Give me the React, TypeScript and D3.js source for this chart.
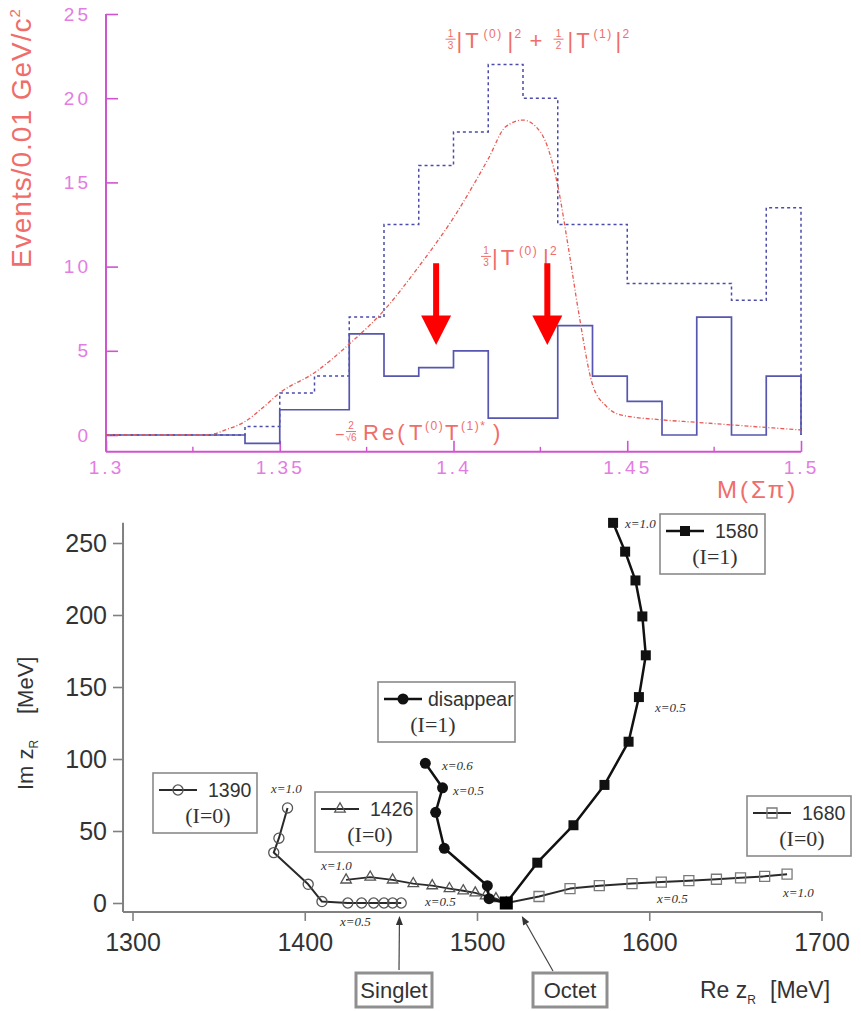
import * as d3 from "d3";
import { useEffect, useRef } from "react";

// ---------- upper panel: M(Σπ) spectrum ----------
const binStart = [1.30, 1.31, 1.32, 1.33, 1.34, 1.35, 1.36, 1.37, 1.38, 1.39, 1.40, 1.41, 1.42, 1.43, 1.44, 1.45, 1.46, 1.47, 1.48, 1.49];
const binEnd = 1.5;
const solidCounts = [0, 0, 0, 0, -0.5, 1.5, 1.5, 6, 3.5, 4, 5, 1, 1, 6.5, 3.5, 2, 0, 7, 0, 3.5];
const dashedCounts = [0, 0, 0, 0, 0.5, 2.5, 3.5, 7, 12.5, 16, 18, 22, 20, 12.5, 12.5, 9, 9, 9, 8, 13.5];

const curveMass = [1.30, 1.329, 1.335, 1.34, 1.345, 1.35, 1.36, 1.37, 1.38, 1.39, 1.40, 1.41, 1.415, 1.42, 1.425, 1.43, 1.433, 1.436, 1.44, 1.444, 1.448, 1.46, 1.47, 1.48, 1.49, 1.50];
const curveValue = [0, 0, 0.35, 0.8, 1.6, 2.5, 3.7, 5.4, 7.4, 10.0, 12.9, 16.4, 18.3, 18.7, 18.0, 14.8, 11.2, 7.3, 3.0, 1.7, 1.2, 0.9, 0.75, 0.6, 0.45, 0.3];

const arrowMass = [1.395, 1.427];
const topYTicks = [0, 5, 10, 15, 20, 25];
const topXTicks = [1.3, 1.35, 1.4, 1.45, 1.5];
const topMinorTicks = [1.325, 1.375, 1.425, 1.475];

// ---------- lower panel: pole trajectories ----------
const bottomXTicks = [1300, 1400, 1500, 1600, 1700];
const bottomYTicks = [0, 50, 100, 150, 200, 250];

const re1390 = [1390, 1385, 1382, 1402, 1410, 1425, 1433, 1440, 1446, 1451, 1456];
const im1390 = [66, 45, 35, 13, 1, 0, 0, 0, 0, 0, 0];
const re1426 = [1424, 1438, 1451, 1463, 1474, 1484, 1492, 1499, 1505, 1511, 1517];
const im1426 = [16, 18, 16, 13.5, 12, 10, 8.5, 7, 5, 3, 0];
const reDisappear = [1517, 1507, 1506, 1481, 1476, 1480, 1470];
const imDisappear = [0, 3, 12, 38, 63, 80, 97];
const re1580 = [1517, 1535, 1556, 1574, 1588, 1594, 1598, 1596, 1592, 1586, 1579];
const im1580 = [0, 28, 54, 82, 112, 143, 172, 199, 224, 244, 264];
const re1680 = [1517, 1536, 1554, 1571, 1590, 1607, 1623, 1639, 1653, 1667, 1680];
const im1680 = [0, 4.5, 10, 12, 13.5, 14.5, 15.5, 16.5, 17.5, 18.5, 20];

const octetPole = [1517, 0];

const paramLabels: [string, number, number][] = [
  ["x=1.0", 1585.9, 260.4],
  ["x=0.5", 1603.3, 132.6],
  ["x=0.6", 1479.7, 92.4],
  ["x=0.5", 1486.1, 75],
  ["x=1.0", 1380.4, 76.4],
  ["x=1.0", 1409.4, 22.9],
  ["x=0.5", 1469.8, -2.1],
  ["x=0.5", 1420.5, -16],
  ["x=0.5", 1604.5, 0],
  ["x=1.0", 1677.6, 4.2],
];

const sans = "'Liberation Sans', Arial, Helvetica, sans-serif";
const serif = "'Liberation Serif', 'Times New Roman', serif";
const axisPink = "#cf55cf";
const tickPink = "#e37ce3";
const salmon = "#ef6d6a";

const topX = d3.scaleLinear().domain([1.3, 1.5]).range([106, 801]);
const topY = d3.scaleLinear().domain([0, 25]).range([435, 14]);
const bx = d3.scaleLinear().domain([1300, 1700]).range([132.5, 821.5]);
const by = d3.scaleLinear().domain([0, 250]).range([903, 543]);
const reMin = 1294.5;
const imMin = -6.2;
const imMax = 264;

type Piece = { x: number; text?: string; sup?: string; frac?: [string, string]; size?: number };

const formulaSum: Piece[] = [
  { x: 4, frac: ["1", "3"] },
  { x: 10, text: "|T" },
  { x: 37, sup: "(0)" },
  { x: 61, text: "|" },
  { x: 68, sup: "2" },
  { x: 83, text: "+" },
  { x: 112, frac: ["1", "2"] },
  { x: 121, text: "|T" },
  { x: 147, sup: "(1)" },
  { x: 169, text: "|" },
  { x: 176, sup: "2" },
];
const formulaI0: Piece[] = [
  { x: 4, frac: ["1", "3"] },
  { x: 10, text: "|T" },
  { x: 37, sup: "(0)" },
  { x: 61, text: "|" },
  { x: 68, sup: "2" },
];
const formulaCross: Piece[] = [
  { x: 0, text: "−", size: 16 },
  { x: 16, frac: ["2", "√6"] },
  { x: 28, text: "Re(" },
  { x: 74, text: "T" },
  { x: 90, sup: "(0)" },
  { x: 110, text: "T" },
  { x: 126, sup: "(1)*" },
  { x: 158, text: ")" },
];

function drawFormula(g: any, x0: number, y0: number, pieces: Piece[]) {
  const f = g.append("g").attr("transform", `translate(${x0},${y0})`).attr("fill", salmon).attr("font-family", sans);
  // stacked fractions
  pieces.filter((p) => p.frac).forEach((p) => {
    f.append("text").attr("x", p.x).attr("y", -11).attr("text-anchor", "middle").attr("font-size", 10).text(p.frac![0]);
    f.append("line").attr("x1", p.x - 5).attr("x2", p.x + 5).attr("y1", -8.5).attr("y2", -8.5)
      .attr("stroke", salmon).attr("stroke-width", 1);
    f.append("text").attr("x", p.x).attr("y", 1).attr("text-anchor", "middle").attr("font-size", 10).text(p.frac![1]);
  });
  // the rest as one text run
  const t = f.append("text").attr("y", 0).attr("font-size", 22);
  pieces.filter((p) => !p.frac).forEach((p) => {
    if (p.sup) {
      t.append("tspan").attr("x", p.x).attr("y", -10).attr("font-size", 12)
        .attr("letter-spacing", p.sup.length > 1 ? 1.5 : 0).text(p.sup);
    } else {
      t.append("tspan").attr("x", p.x).attr("y", 0).attr("font-size", p.size ?? 22)
        .attr("letter-spacing", p.text!.length > 1 ? 3 : 0).text(p.text);
    }
  });
}

function drawSpectrum(g: any) {
  // axes
  const yAxis = g.append("g").attr("transform", `translate(${topX(1.3)},0)`)
    .call(d3.axisLeft(topY).tickValues(topYTicks).tickSize(-12).tickPadding(15).tickFormat(d3.format("d")));
  yAxis.select(".domain").remove();
  yAxis.selectAll("line").attr("stroke", axisPink).attr("stroke-width", 1.6);
  yAxis.selectAll("text").attr("fill", tickPink).attr("font-family", sans).attr("font-size", 19).attr("letter-spacing", 3);

  const xAxis = g.append("g").attr("transform", `translate(0,${topY(-1)})`)
    .call(d3.axisBottom(topX).tickValues(topXTicks).tickSize(-11).tickPadding(9).tickFormat((d: any) => String(d)));
  xAxis.select(".domain").remove();
  xAxis.selectAll("line").attr("stroke", axisPink).attr("stroke-width", 1.6);
  xAxis.selectAll("text").attr("fill", tickPink).attr("font-family", sans).attr("font-size", 19).attr("letter-spacing", 3);

  g.selectAll(null).data(topMinorTicks).join("line")
    .attr("x1", (d: number) => topX(d)).attr("x2", (d: number) => topX(d))
    .attr("y1", topY(-1)).attr("y2", topY(-1) - 5)
    .attr("stroke", axisPink).attr("stroke-width", 1.4);

  g.append("line").attr("x1", topX(1.3)).attr("x2", topX(1.3)).attr("y1", topY(25)).attr("y2", topY(-1))
    .attr("stroke", axisPink).attr("stroke-width", 2);
  g.append("line").attr("x1", topX(1.3)).attr("x2", topX(1.5)).attr("y1", topY(-1)).attr("y2", topY(-1))
    .attr("stroke", axisPink).attr("stroke-width", 2);

  // axis titles
  g.append("text").attr("transform", "translate(31,138) rotate(-90)").attr("text-anchor", "middle")
    .attr("font-family", sans).attr("font-size", 28).attr("letter-spacing", 1).attr("fill", salmon)
    .text("Events/0.01 GeV/c")
    .append("tspan").attr("dy", -11).attr("font-size", 15).text("2");
  g.append("text").attr("x", 717).attr("y", 498).attr("font-family", sans).attr("font-size", 24)
    .attr("letter-spacing", 3).attr("fill", salmon).text("M(Σπ)");

  // histograms
  const hist = (counts: number[]) => {
    const pts: [number, number][] = binStart.map((m, i) => [m, counts[i]]);
    pts.push([binEnd, counts[counts.length - 1]]);
    pts.push([binEnd, 0]);
    return pts;
  };
  const step = d3.line<[number, number]>().x((d) => topX(d[0])).y((d) => topY(d[1])).curve(d3.curveStepAfter);
  g.append("path").attr("d", step(hist(dashedCounts))).attr("fill", "none")
    .attr("stroke", "#4b4bab").attr("stroke-width", 1.5).attr("stroke-dasharray", "3,3");
  g.append("path").attr("d", step(hist(solidCounts))).attr("fill", "none")
    .attr("stroke", "#5656b0").attr("stroke-width", 1.7);

  // theory curve
  const smooth = d3.line<number>().x((d, i) => topX(curveMass[i])).y((d) => topY(d)).curve(d3.curveMonotoneX);
  g.append("path").attr("d", smooth(curveValue)).attr("fill", "none")
    .attr("stroke", "#e85a55").attr("stroke-width", 1.3).attr("stroke-dasharray", "4,2,1,2");

  // formula labels
  drawFormula(g, topX(1.398), topY(23), formulaSum);
  drawFormula(g, topX(1.4082), topY(10.1), formulaI0);
  drawFormula(g, topX(1.3659), topY(-0.3), formulaCross);

  // red arrows
  arrowMass.forEach((m) => {
    const x = topX(m);
    g.append("line").attr("x1", x).attr("x2", x).attr("y1", topY(10.2)).attr("y2", topY(7.0))
      .attr("stroke", "#ff0000").attr("stroke-width", 6);
    g.append("path").attr("d", `M${x - 15},${topY(7.1)}L${x + 15},${topY(7.1)}L${x},${topY(5.35)}Z`).attr("fill", "#ff0000");
  });
}

const trajectories = [
  { name: "1680", re: re1680, im: im1680 },
  { name: "1426", re: re1426, im: im1426 },
  { name: "1390", re: re1390, im: im1390 },
  { name: "disappear", re: reDisappear, im: imDisappear },
  { name: "1580", re: re1580, im: im1580 },
];

const trajStyle: Record<string, any> = {
  "1390": { symbol: d3.symbolCircle, size: 80, filled: false, line: "#2a2a2a", lw: 2, mk: "#555" },
  "1426": { symbol: d3.symbolTriangle, size: 48, filled: false, line: "#2a2a2a", lw: 1.8, mk: "#555" },
  disappear: { symbol: d3.symbolCircle, size: 95, filled: true, line: "#111", lw: 2.5, mk: "#111" },
  "1580": { symbol: d3.symbolSquare, size: 100, filled: true, line: "#111", lw: 2.5, mk: "#111" },
  "1680": { symbol: d3.symbolSquare, size: 100, filled: false, line: "#2a2a2a", lw: 2, mk: "#7a7a7a" },
};

const legendLayout = [
  { name: "1390", label: "1390", iso: "(I=0)", left: 153, top: 773, width: 104 },
  { name: "1426", label: "1426", iso: "(I=0)", left: 315, top: 792, width: 102 },
  { name: "disappear", label: "disappear", iso: "(I=1)", left: 378, top: 682, width: 137 },
  { name: "1580", label: "1580", iso: "(I=1)", left: 660, top: 514, width: 105 },
  { name: "1680", label: "1680", iso: "(I=0)", left: 747, top: 796, width: 104 },
];

const stateBoxes = [
  { text: "Singlet", left: 356, width: 76, from: [399, 970], target: [1455, -9] },
  { text: "Octet", left: 533, width: 74, from: [553, 971], target: [1526, -9] },
];

function marker(sel: any, style: any) {
  sel.attr("d", d3.symbol().type(style.symbol).size(style.size)())
    .attr("fill", style.filled ? style.mk : "none")
    .attr("stroke", style.mk)
    .attr("stroke-width", style.filled ? 0 : 1.3);
}

function drawTrajectories(g: any) {
  // axes
  const xa = g.append("g").attr("transform", `translate(0,${by(imMin)})`)
    .call(d3.axisBottom(bx).tickValues(bottomXTicks).tickSize(9).tickPadding(12).tickFormat(d3.format("d")));
  xa.select(".domain").remove();
  xa.selectAll("line").attr("stroke", "#808080").attr("stroke-width", 1.6);
  xa.selectAll("text").attr("fill", "#333").attr("font-family", sans).attr("font-size", 25);

  const ya = g.append("g").attr("transform", `translate(${bx(reMin)},0)`)
    .call(d3.axisLeft(by).tickValues(bottomYTicks).tickSize(10).tickPadding(6).tickFormat(d3.format("d")));
  ya.select(".domain").remove();
  ya.selectAll("line").attr("stroke", "#808080").attr("stroke-width", 1.6);
  ya.selectAll("text").attr("fill", "#333").attr("font-family", sans).attr("font-size", 25);

  g.append("line").attr("x1", bx(reMin)).attr("x2", bx(1700)).attr("y1", by(imMin)).attr("y2", by(imMin))
    .attr("stroke", "#808080").attr("stroke-width", 2);
  g.append("line").attr("x1", bx(reMin)).attr("x2", bx(reMin)).attr("y1", by(imMin)).attr("y2", by(imMax))
    .attr("stroke", "#808080").attr("stroke-width", 2);

  // axis titles
  const yt = g.append("text").attr("transform", "translate(33,790) rotate(-90)")
    .attr("font-family", sans).attr("font-size", 22).attr("fill", "#333");
  yt.append("tspan").text("Im z");
  yt.append("tspan").attr("dy", 5).attr("font-size", 12).text("R");
  yt.append("tspan").attr("x", 76).attr("dy", -5).text("[MeV]");

  const xt = g.append("text").attr("x", 700).attr("y", 998)
    .attr("font-family", sans).attr("font-size", 23).attr("fill", "#333");
  xt.append("tspan").text("Re z");
  xt.append("tspan").attr("dy", 6).attr("font-size", 12).text("R");
  xt.append("tspan").attr("x", 770).attr("dy", -6).text("[MeV]");

  // trajectories
  const line = d3.line<[number, number]>().x((d) => bx(d[0])).y((d) => by(d[1]));
  trajectories.forEach((t) => {
    const s = trajStyle[t.name];
    const pts: [number, number][] = t.re.map((r, i) => [r, t.im[i]]);
    g.append("path").attr("d", line(pts)).attr("fill", "none").attr("stroke", s.line)
      .attr("stroke-width", s.lw).attr("stroke-linejoin", "round");
    g.selectAll(null).data(pts).join("path")
      .attr("transform", (d: [number, number]) => `translate(${bx(d[0])},${by(d[1])})`)
      .call((sel: any) => marker(sel, s));
  });
  g.append("path").attr("transform", `translate(${bx(octetPole[0])},${by(octetPole[1])})`)
    .attr("d", d3.symbol().type(d3.symbolSquare).size(170)()).attr("fill", "#000");

  // parameter labels
  g.selectAll(null).data(paramLabels).join("text")
    .attr("x", (d: any) => bx(d[1])).attr("y", (d: any) => by(d[2]))
    .attr("font-family", serif).attr("font-style", "italic").attr("font-size", 13).attr("fill", "#333")
    .text((d: any) => d[0]);

  // legends
  legendLayout.forEach((l) => {
    const s = trajStyle[l.name];
    const lg = g.append("g").attr("transform", `translate(${l.left},${l.top})`);
    lg.append("rect").attr("width", l.width).attr("height", 60).attr("fill", "#fff")
      .attr("stroke", "#8a8a8a").attr("stroke-width", 1.6);
    lg.append("line").attr("x1", 6).attr("x2", 44).attr("y1", 17).attr("y2", 17)
      .attr("stroke", s.line).attr("stroke-width", s.lw);
    lg.append("path").attr("transform", "translate(25,17)").call((sel: any) => marker(sel, s));
    lg.append("text").attr("x", l.name === "disappear" ? 50 : 55).attr("y", 24)
      .attr("font-family", sans).attr("font-size", 19.5).attr("fill", "#333").text(l.label);
    lg.append("text").attr("x", 55).attr("y", 50).attr("text-anchor", "middle")
      .attr("font-family", serif).attr("font-size", 22).attr("fill", "#333").text(l.iso);
  });

  // singlet / octet
  stateBoxes.forEach((b) => {
    g.append("rect").attr("x", b.left).attr("y", 973).attr("width", b.width).attr("height", 34)
      .attr("fill", "#fff").attr("stroke", "#8f8f8f").attr("stroke-width", 3);
    g.append("text").attr("x", b.left + b.width / 2).attr("y", 998).attr("text-anchor", "middle")
      .attr("font-family", sans).attr("font-size", 22).attr("fill", "#333").text(b.text);
    const tx = bx(b.target[0]);
    const ty = by(b.target[1]);
    const [fx, fy] = b.from;
    const ang = Math.atan2(ty - fy, tx - fx);
    const hl = 9;
    const hw = 3.5;
    const bxp = tx - hl * Math.cos(ang);
    const byp = ty - hl * Math.sin(ang);
    g.append("line").attr("x1", fx).attr("y1", fy).attr("x2", bxp).attr("y2", byp)
      .attr("stroke", "#444").attr("stroke-width", 1.2);
    g.append("path")
      .attr("d", `M${tx},${ty}L${bxp + hw * Math.sin(ang)},${byp - hw * Math.cos(ang)}L${bxp - hw * Math.sin(ang)},${byp + hw * Math.cos(ang)}Z`)
      .attr("fill", "#333");
  });
}

export default function App() {
  const ref = useRef<SVGSVGElement>(null);

  useEffect(() => {
    const svg = d3.select(ref.current);
    svg.selectAll("*").remove();
    drawSpectrum(svg.append("g"));
    drawTrajectories(svg.append("g"));
  }, []);

  return (
    <svg ref={ref} width={861} height={1011} style={{ position: "absolute", left: 0, top: 0, background: "#fff" }} />
  );
}
